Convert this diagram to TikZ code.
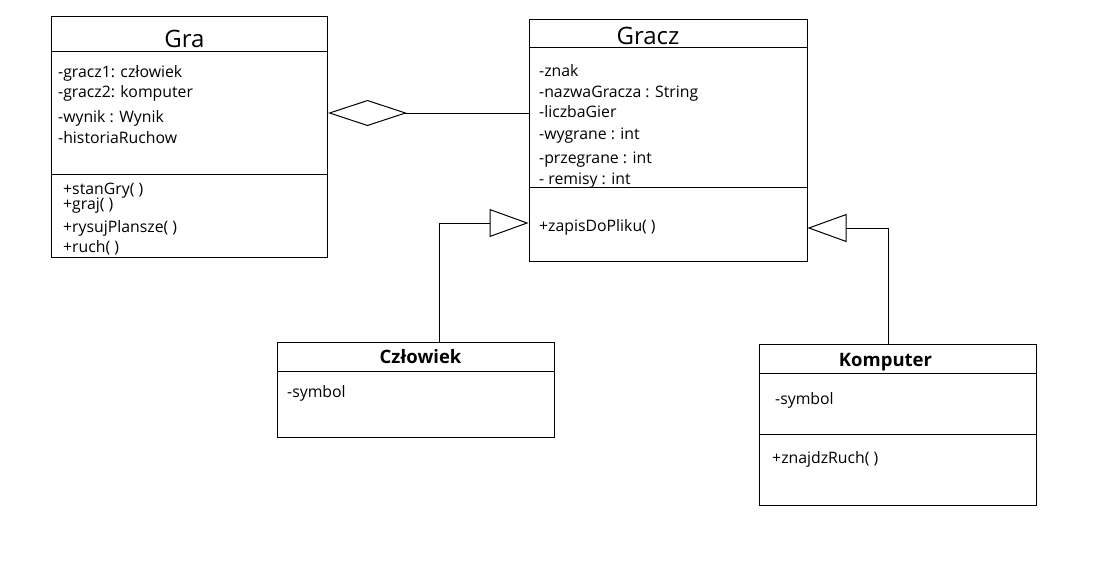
\documentclass[tikz,border=0pt]{standalone}
\usepackage{fontspec}
\setmainfont{Open Sans}
\usetikzlibrary{arrows.meta}

\begin{document}
\begin{tikzpicture}[x=1pt, y=-1pt,
    klasa/.style={draw, black, line width=1pt, inner sep=0pt},
    linia/.style={black, line width=1pt},
    tekst/.style={anchor=base west, inner sep=0pt, font=\fontsize{15.8}{19}\selectfont},
    tytul/.style={anchor=base, inner sep=0pt, font=\fontsize{24}{28}\selectfont},
    tytulb/.style={anchor=base, inner sep=0pt, font=\bfseries\fontsize{18.5}{22}\selectfont},
    dziedziczenie/.style={linia, -{Triangle[open, length=39pt, width=28pt]}},
    agregacja/.style={linia, -{Diamond[open, length=79pt, width=26pt]}}]

    \useasboundingbox (0,0) rectangle (1099,582);

    % Klasy
    \node[klasa, minimum width=276pt, minimum height=241pt] (gra) at (189.5,136.5) {};
    \node[klasa, minimum width=278pt, minimum height=242pt] (gracz) at (668,140) {};
    \node[klasa, minimum width=277pt, minimum height=95pt] (czlowiek) at (415.5,389.5) {};
    \node[klasa, minimum width=277pt, minimum height=161pt] (komputer) at (897.5,424.5) {};

    % Linie podzialu
    \draw[linia] ([yshift=-36pt]gra.north west) -- ([yshift=-36pt]gra.north east);
    \draw[linia] ([yshift=-159pt]gra.north west) -- ([yshift=-159pt]gra.north east);
    \draw[linia] ([yshift=-29pt]gracz.north west) -- ([yshift=-29pt]gracz.north east);
    \draw[linia] ([yshift=-169pt]gracz.north west) -- ([yshift=-169pt]gracz.north east);
    \draw[linia] ([yshift=-30pt]czlowiek.north west) -- ([yshift=-30pt]czlowiek.north east);
    \draw[linia] ([yshift=-30pt]komputer.north west) -- ([yshift=-30pt]komputer.north east);
    \draw[linia] ([yshift=-91pt]komputer.north west) -- ([yshift=-91pt]komputer.north east);

    % Nazwy klas
    \node[tytul] (graT) at (184.5,47) {Gra};
    \node[tytul] (graczT) at (648,44) {Gracz};
    \node[tytulb] (czlowiekT) at (420.5,363.5) {Człowiek};
    \node[tytulb] (komputerT) at (885.5,366) {Komputer};

    % Gra
    \node[tekst] (gra1) at (58,77) {-gracz1: człowiek};
    \node[tekst] (gra2) at (58,97) {-gracz2: komputer};
    \node[tekst] (gra3) at (58,122) {-wynik : Wynik};
    \node[tekst] (gra4) at (58,143) {-historiaRuchow};
    \node[tekst] (graM1) at (63,194) {+stanGry( )};
    \node[tekst] (graM2) at (63,209) {+graj( )};
    \node[tekst] (graM3) at (63,232) {+rysujPlansze( )};
    \node[tekst] (graM4) at (63,252) {+ruch( )};

    % Gracz
    \node[tekst] (gracz1) at (539,76) {-znak};
    \node[tekst] (gracz2) at (539,97) {-nazwaGracza : String};
    \node[tekst] (gracz3) at (539,117) {-liczbaGier};
    \node[tekst] (gracz4) at (539,139) {-wygrane : int};
    \node[tekst] (gracz5) at (539,163) {-przegrane : int};
    \node[tekst] (gracz6) at (539,184) {- remisy : int};
    \node[tekst] (graczM1) at (539,231) {+zapisDoPliku( )};

    % Czlowiek i Komputer
    \node[tekst] (czlowiek1) at (287,397) {-symbol};
    \node[tekst] (komputer1) at (775,404) {-symbol};
    \node[tekst] (komputerM1) at (772,463) {+znajdzRuch( )};

    % Polaczenia
    \draw[agregacja] ([yshift=27pt]gracz.west) -- ([yshift=23.5pt]gra.east);
    \draw[dziedziczenie] ([xshift=23.5pt]czlowiek.north) |- ([yshift=-83pt]gracz.west);
    \draw[dziedziczenie] ([xshift=-9.5pt]komputer.north) |- ([yshift=-88pt]gracz.east);
\end{tikzpicture}
\end{document}
